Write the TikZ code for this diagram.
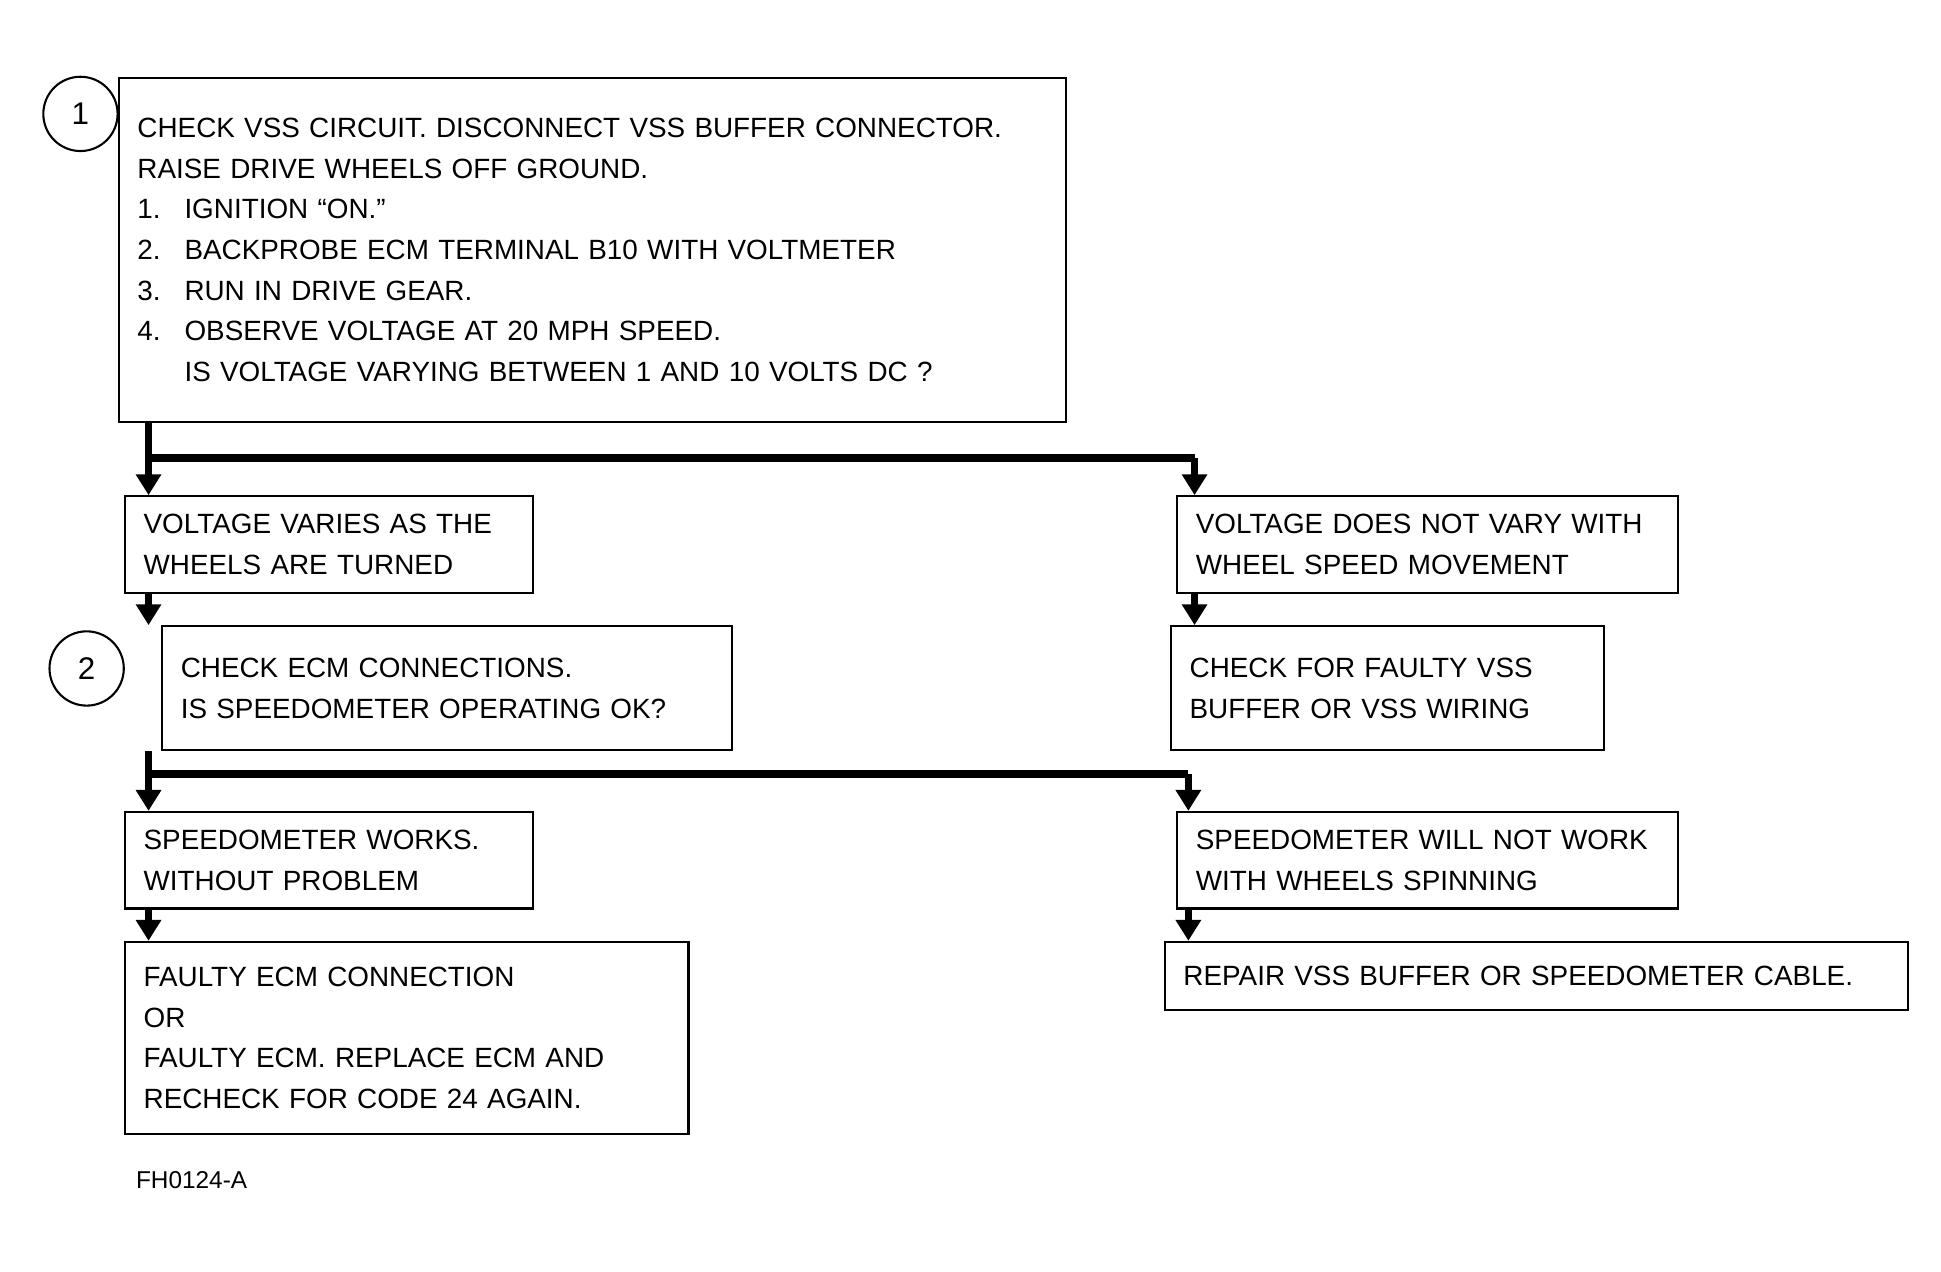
\documentclass[tikz,border=0pt]{standalone}
\usepackage{fontspec}
\setmainfont{Liberation Sans}
\usetikzlibrary{arrows.meta}

\begin{document}
\begin{tikzpicture}[x=0.0125cm,y=-0.0125cm,
    flowbox/.style={draw, line width=0.6pt, anchor=north west, align=left,
      inner xsep=0.19cm, inner ysep=0pt, font=\fontsize{8}{11.7}\selectfont},
    stepmark/.style={draw, circle, line width=0.6pt, minimum size=0.75cm,
      font=\fontsize{9}{11}\selectfont},
    bar/.style={line width=2.2pt},
    down/.style={bar, -{Triangle[length=6pt,width=7pt]}}]
        \useasboundingbox (0,0) rectangle (1568,1027);

        % first test
        \node[flowbox, text width=9.18cm, minimum height=3.475cm] (test1) at (95,62)
          {CHECK VSS CIRCUIT. DISCONNECT VSS BUFFER CONNECTOR.\\
           RAISE DRIVE WHEELS OFF GROUND.\\
           \makebox[0.475cm][l]{1.}IGNITION ``ON.''\\
           \makebox[0.475cm][l]{2.}BACKPROBE ECM TERMINAL B10 WITH VOLTMETER\\
           \makebox[0.475cm][l]{3.}RUN IN DRIVE GEAR.\\
           \makebox[0.475cm][l]{4.}OBSERVE VOLTAGE AT 20 MPH SPEED.\\
           \hspace*{0.475cm}IS VOLTAGE VARYING BETWEEN 1 AND 10 VOLTS DC ?};
        \node[stepmark] (s1) at (65,92) {1};

        % first split
        \node[flowbox, text width=3.745cm, minimum height=0.975cm] (volt) at (100,400)
          {VOLTAGE VARIES AS THE\\WHEELS ARE TURNED};
        \node[flowbox, text width=4.68cm, minimum height=0.975cm] (novolt) at (950,400)
          {VOLTAGE DOES NOT VARY WITH\\WHEEL SPEED MOVEMENT};

        \node[flowbox, text width=5.37cm, minimum height=1.25cm] (test2) at (130,505)
          {CHECK ECM CONNECTIONS.\\IS SPEEDOMETER OPERATING OK?};
        \node[stepmark] (s2) at (70,540) {2};
        \node[flowbox, text width=3.995cm, minimum height=1.25cm] (buffer) at (945,505)
          {CHECK FOR FAULTY VSS\\BUFFER OR VSS WIRING};

        % second split
        \node[flowbox, text width=3.745cm, minimum height=0.975cm] (speedok) at (100,655)
          {SPEEDOMETER WORKS.\\WITHOUT PROBLEM};
        \node[flowbox, text width=4.68cm, minimum height=0.975cm] (speedbad) at (950,655)
          {SPEEDOMETER WILL NOT WORK\\WITH WHEELS SPINNING};

        \node[flowbox, text width=5.31cm, minimum height=1.9375cm] (ecm) at (100,760)
          {FAULTY ECM CONNECTION\\OR\\FAULTY ECM. REPLACE ECM AND\\RECHECK FOR CODE 24 AGAIN.};
        \node[flowbox, text width=7.12cm, minimum height=0.6875cm] (repair) at (940,760)
          {REPAIR VSS BUFFER OR SPEEDOMETER CABLE.};

        \node[anchor=west, font=\fontsize{7}{8}\selectfont] (fig) at (100,953) {FH0124-A};

        % connectors
        \coordinate (j1) at (120,370);
        \coordinate (k1) at (965,370);
        \coordinate (j2) at (120,625);
        \coordinate (k2) at (960,625);

        \draw[bar] (test1.south -| j1) -- (j1) -- (k1);
        \draw[down] (j1) -- (j1 |- volt.north);
        \draw[down] (k1) -- (k1 |- novolt.north);
        \draw[down] (j1 |- volt.south) -- (j1 |- test2.north);
        \draw[down] (k1 |- novolt.south) -- (k1 |- buffer.north);

        \draw[bar] (j2 |- test2.south) -- (j2) -- (k2);
        \draw[down] (j2) -- (j2 |- speedok.north);
        \draw[down] (k2) -- (k2 |- speedbad.north);
        \draw[down] (j2 |- speedok.south) -- (j2 |- ecm.north);
        \draw[down] (k2 |- speedbad.south) -- (k2 |- repair.north);
\end{tikzpicture}
\end{document}
